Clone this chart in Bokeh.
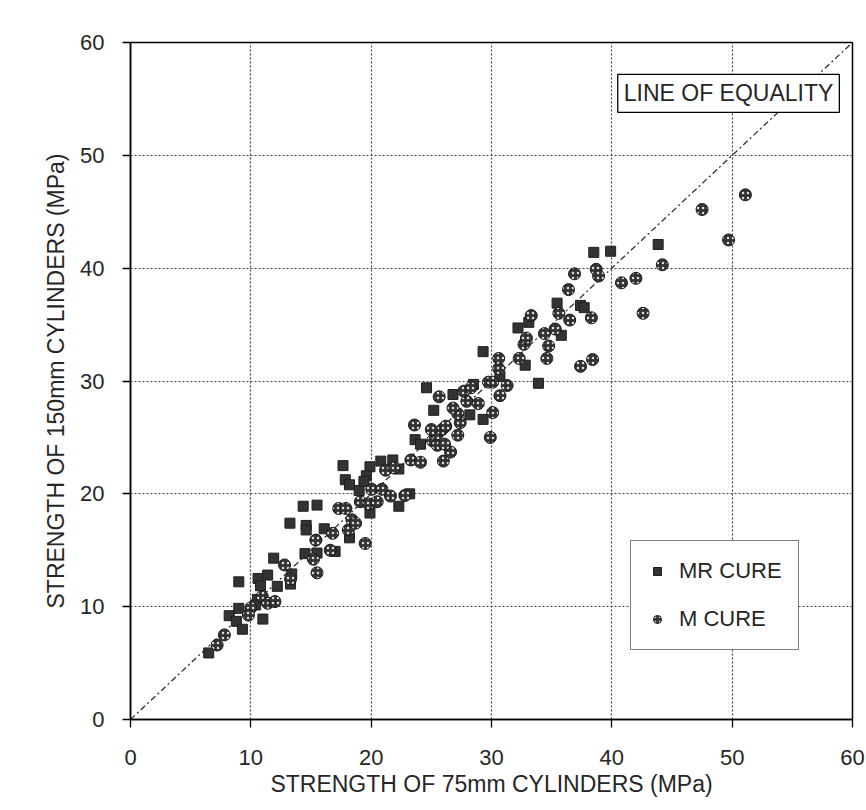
from bokeh.plotting import figure
from bokeh.models import Range1d, FixedTicker, Legend, LegendItem, Label, ColumnDataSource
from bokeh.embed import file_html
from bokeh.resources import INLINE

# MR CURE (squares)
mr_x = [6.5, 8.2, 8.8, 9.3, 9.0, 11.0, 10.55, 10.4, 9.0, 10.6, 11.4, 10.8, 12.2, 11.9, 13.4, 13.3,
        14.5, 15.5, 17.0, 13.25, 14.6, 14.6, 16.1, 18.2, 14.35, 15.5, 19.9, 22.3, 17.66, 19.9, 20.8,
        21.8, 17.85, 18.2, 19.6, 19.0, 19.4,
        22.3, 23.2, 23.65, 24.1, 25.2, 24.6, 26.8, 28.2, 29.3, 28.5, 29.3,
        30.7, 33.9, 32.8, 32.2, 33.1, 35.8, 35.45, 37.4, 37.7, 38.5, 39.9, 43.85]
mr_y = [5.9, 9.2, 8.7, 8.0, 9.85, 8.9, 10.65, 10.15, 12.2, 12.5, 12.8, 11.85, 11.8, 14.3, 12.9, 12.0,
        14.7, 14.75, 14.9, 17.4, 17.2, 16.8, 16.9, 16.1, 18.9, 19.0, 18.3, 18.9, 22.5, 22.4, 22.9,
        23.0, 21.25, 20.8, 21.6, 20.3, 21.1,
        22.2, 20.0, 24.8, 24.4, 27.4, 29.4, 28.8, 27.0, 26.6, 29.7, 32.6,
        30.4, 29.8, 31.4, 34.7, 35.2, 34.05, 36.9, 36.7, 36.5, 41.4, 41.5, 42.1]

# M CURE (circles)
m_x = [7.2, 7.8, 10.0, 9.8, 10.95, 11.4, 12.0, 13.3, 12.8, 15.2, 15.5, 16.6, 15.4, 19.5, 16.8, 18.1,
       18.4, 18.7, 17.3, 17.9, 19.1, 19.8, 20.5, 21.6, 20.05, 20.9, 21.2, 21.9,
       22.8, 23.3, 24.1, 26.0, 26.6, 25.1, 25.5, 26.1, 27.2, 25.5, 25.9, 26.2, 25.0, 23.6, 29.9,
       27.4, 27.2, 26.8, 30.1, 27.95, 28.9, 25.65, 27.7, 28.3, 29.75,
       30.1, 31.3, 30.7, 30.6, 30.6, 32.3, 32.7, 32.9, 34.6, 34.75, 34.4, 35.3, 33.3, 35.6, 36.5,
       38.3, 36.4, 36.9, 38.7, 38.9, 40.8, 42.0, 44.2, 42.6, 37.4, 38.4, 49.7, 51.1, 47.5]
m_y = [6.6, 7.5, 9.9, 9.25, 10.9, 10.3, 10.45, 12.45, 13.7, 14.2, 13.0, 15.0, 15.9, 15.6, 16.5, 16.8,
       17.7, 17.4, 18.7, 18.7, 19.3, 19.1, 19.3, 19.8, 20.4, 20.4, 22.1, 22.3,
       19.85, 23.0, 22.8, 22.9, 23.7, 24.7, 24.3, 24.4, 25.2, 25.3, 25.7, 26.0, 25.7, 26.1, 25.0,
       26.3, 27.1, 27.6, 27.2, 28.2, 28.0, 28.6, 29.1, 29.4, 29.9,
       29.9, 29.6, 28.7, 31.1, 32.0, 32.0, 33.25, 33.8, 32.0, 33.1, 34.2, 34.6, 35.8, 36.0, 35.4,
       35.6, 38.1, 39.5, 39.9, 39.3, 38.7, 39.1, 40.3, 36.0, 31.3, 31.9, 42.5, 46.5, 45.2]

ticks = [0, 10, 20, 30, 40, 50, 60]
equality = [0, 60]

FONT = "Liberation Sans"
TXT = "#262626"

p = figure(width=866, height=810, output_backend="svg", toolbar_location=None,
           x_range=Range1d(0, 60), y_range=Range1d(0, 60),
           min_border_left=130, min_border_right=14, min_border_top=42, min_border_bottom=91,
           background_fill_color="white", border_fill_color="white")

p.outline_line_color = "black"
p.outline_line_width = 1.5

for ax in (p.xaxis[0], p.yaxis[0]):
    ax.ticker = FixedTicker(ticks=ticks)
    ax.minor_tick_line_color = None
    ax.major_tick_in = 0
    ax.major_tick_out = 8
    ax.major_tick_line_color = "black"
    ax.major_tick_line_width = 1.3
    ax.axis_line_color = "black"
    ax.axis_line_width = 1.5
    ax.major_label_text_font = FONT
    ax.major_label_text_font_size = "22px"
    ax.major_label_text_color = TXT
    ax.axis_label_text_font = FONT
    ax.axis_label_text_font_size = "23px"
    ax.axis_label_text_font_style = "normal"
    ax.axis_label_text_color = TXT

p.xaxis.axis_label = "STRENGTH OF 75mm CYLINDERS (MPa)"
p.yaxis.axis_label = "STRENGTH OF 150mm CYLINDERS (MPa)"
p.xaxis.major_label_standoff = 22
p.yaxis.major_label_standoff = 18
p.xaxis.axis_label_standoff = 3
p.yaxis.axis_label_standoff = 8

for g in (p.xgrid[0], p.ygrid[0]):
    g.ticker = FixedTicker(ticks=ticks)
    g.grid_line_color = "#444444"
    g.grid_line_width = 1.2
    g.grid_line_dash = "2 2"

p.line(equality, equality, line_color="#333333", line_width=1.3, line_dash="6 3 2 3")

src_mr = ColumnDataSource(dict(x=mr_x, y=mr_y))
src_m = ColumnDataSource(dict(x=m_x, y=m_y))

sq = p.scatter("x", "y", source=src_mr, marker="square", size=10,
               fill_color="#333333", line_color="#1e1e1e", line_width=1)
ci = p.scatter("x", "y", source=src_m, marker="circle", size=12,
               fill_color="#333333", line_color="#1a1a1a", line_width=1,
               hatch_pattern="dot", hatch_color="#dddddd", hatch_scale=5, hatch_weight=1.3)

legend = Legend(items=[LegendItem(label="MR CURE", renderers=[sq]),
                       LegendItem(label="M CURE", renderers=[ci])],
                location=(500, 69), orientation="vertical",
                border_line_color="black", border_line_width=1.3,
                background_fill_color="white", background_fill_alpha=1.0,
                label_text_font=FONT, label_text_font_size="22px", label_text_color=TXT,
                glyph_width=20, glyph_height=20, label_height=28, label_standoff=12,
                spacing=20, padding=16, margin=0)
p.add_layout(legend, "center")

eq_label = Label(x=49.7, y=55.5, text="LINE OF EQUALITY", text_align="center", text_baseline="middle",
                 text_font=FONT, text_font_size="23px", text_color=TXT,
                 background_fill_color="white", border_line_color="black", border_line_width=1.3,
                 padding=6)
p.add_layout(eq_label)

open("out.html", "w").write(file_html(p, INLINE))
